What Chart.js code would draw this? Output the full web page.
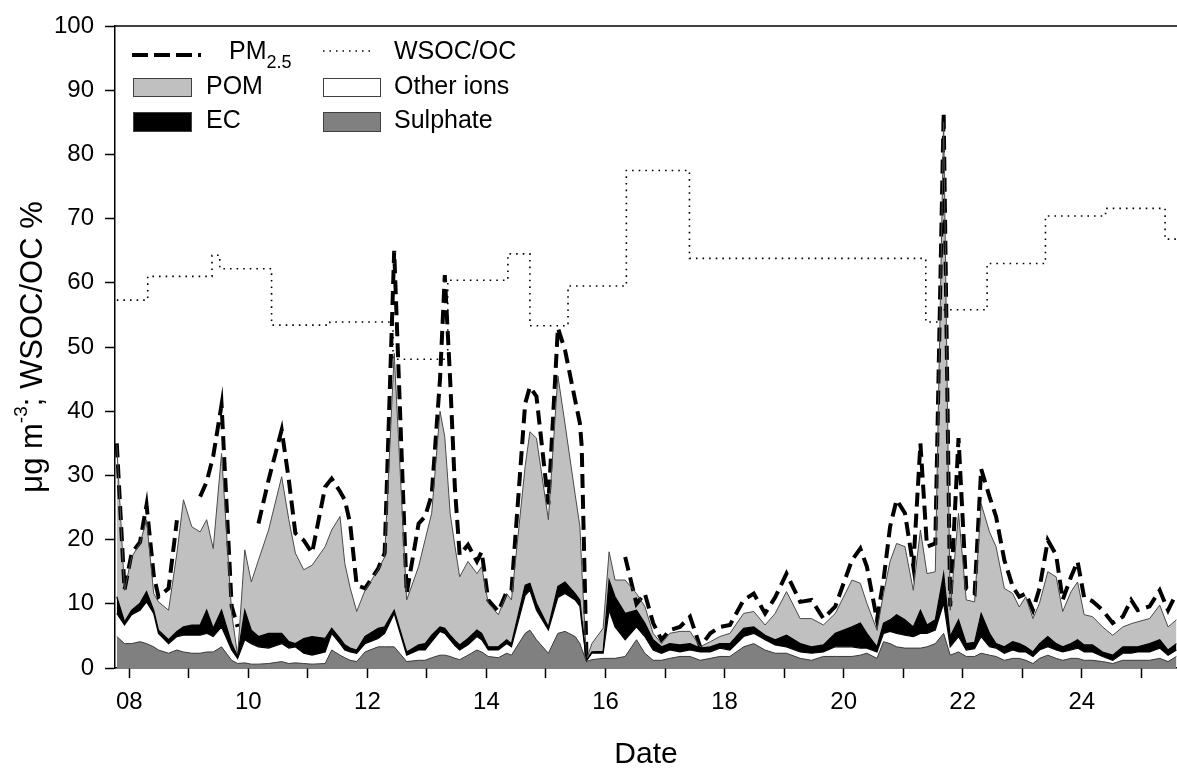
<!DOCTYPE html>
<html lang="en">
<head>
<meta charset="utf-8"/>
<title>PM2.5 composition and WSOC/OC</title>
<script src="https://cdn.jsdelivr.net/npm/chart.js@4.4.1/dist/chart.umd.min.js"></script>
<style>
  html, body { margin: 0; padding: 0; background: #fff; }
  #wrap { width: 1177px; height: 770px; }
</style>
</head>
<body>
<div id="wrap"><canvas id="chart" width="1177" height="770"></canvas></div>
<script>
// sampling times, as day of the month (decimal)
var days = [
  7.79, 7.92, 8.04, 8.18, 8.29, 8.41, 8.49, 8.66, 8.80, 8.91,
  9.05, 9.19, 9.30, 9.41, 9.55, 9.72, 9.82, 9.94, 10.05, 10.17,
  10.34, 10.56, 10.68, 10.79, 10.93, 11.07, 11.29, 11.40, 11.54, 11.62,
  11.71, 11.82, 11.96, 12.18, 12.29, 12.45, 12.66, 12.86, 12.97, 13.08,
  13.22, 13.30, 13.39, 13.47, 13.55, 13.69, 13.84, 13.92, 14.03, 14.20,
  14.34, 14.42, 14.65, 14.73, 14.84, 15.04, 15.20, 15.32, 15.49, 15.57,
  15.60, 15.68, 15.77, 15.96, 16.06, 16.16, 16.33, 16.52, 16.66, 16.80,
  16.94, 17.08, 17.25, 17.42, 17.59, 17.76, 17.92, 18.09, 18.32, 18.49,
  18.68, 18.85, 19.04, 19.27, 19.46, 19.66, 19.86, 20.14, 20.28, 20.39,
  20.56, 20.67, 20.78, 20.89, 21.03, 21.17, 21.29, 21.40, 21.54, 21.68,
  21.79, 21.93, 22.06, 22.20, 22.31, 22.45, 22.56, 22.70, 22.84, 22.95,
  23.06, 23.18, 23.29, 23.43, 23.57, 23.68, 23.82, 23.93, 24.04, 24.18,
  24.35, 24.52, 24.69, 24.83, 24.94, 25.14, 25.31, 25.45, 25.59
];

// stacked components, ug m-3 (bottom to top)
var sulphate = [
  4.9, 3.8, 3.8, 4.1, 3.8, 3.3, 2.8, 2.3, 2.8, 2.5,
  2.3, 2.3, 2.5, 2.5, 3.3, 1.2, 0.7, 0.8, 0.6, 0.6,
  0.7, 1.0, 0.7, 0.8, 0.7, 0.6, 0.7, 2.8, 2.0, 1.6,
  1.2, 1.0, 2.5, 3.3, 3.3, 3.3, 1.0, 1.2, 1.2, 1.6,
  2.0, 2.0, 1.8, 1.5, 1.3, 2.0, 2.8, 2.5, 1.8, 1.6,
  2.3, 2.0, 5.4, 5.9, 4.4, 2.3, 5.4, 5.7, 4.9, 3.8,
  3.0, 1.0, 1.3, 1.5, 1.5, 1.5, 1.8, 4.4, 2.3, 1.2,
  1.2, 1.5, 1.8, 1.8, 1.2, 1.5, 1.8, 1.8, 3.3, 3.8,
  2.8, 2.3, 2.3, 1.5, 1.2, 1.8, 1.8, 1.8, 2.0, 2.3,
  1.5, 4.1, 3.8, 3.3, 3.1, 3.1, 3.1, 3.3, 3.8, 5.4,
  2.0, 2.5, 1.8, 1.8, 2.3, 2.0, 1.8, 1.2, 1.5, 1.5,
  1.2, 0.7, 1.5, 2.0, 1.5, 1.2, 1.5, 1.5, 1.2, 1.2,
  1.0, 0.7, 1.2, 1.2, 1.2, 1.2, 1.5, 1.0, 1.8
];
var otherIons = [
  3.6, 2.9, 4.5, 4.9, 6.5, 5.2, 2.6, 1.5, 2.1, 2.6,
  2.8, 2.8, 2.9, 2.4, 3.1, 1.6, 0.8, 3.6, 3.2, 2.7,
  2.4, 2.8, 2.4, 2.5, 1.6, 1.4, 1.8, 2.6, 1.8, 1.2,
  1.3, 1.3, 1.3, 1.3, 2.1, 5.2, 1.0, 1.6, 1.6, 2.5,
  3.7, 3.4, 2.6, 2.0, 1.5, 1.6, 2.1, 1.9, 1.0, 1.2,
  1.5, 1.3, 5.9, 6.2, 4.6, 3.6, 5.6, 5.9, 5.7, 5.8,
  4.0, 0.1, 1.0, 0.8, 7.5, 4.9, 2.6, 2.0, 2.6, 1.6,
  1.1, 1.3, 0.7, 1.0, 1.3, 1.0, 1.3, 1.0, 1.6, 1.6,
  1.6, 1.3, 1.0, 1.0, 1.1, 0.7, 1.5, 1.5, 1.1, 0.8,
  1.0, 1.3, 1.9, 2.1, 2.0, 1.8, 2.3, 2.1, 2.1, 4.7,
  1.3, 2.4, 1.0, 1.2, 2.6, 1.3, 1.3, 1.1, 1.3, 1.0,
  1.3, 1.1, 1.3, 1.3, 1.3, 1.3, 1.3, 1.6, 1.3, 1.3,
  0.8, 0.5, 1.1, 1.1, 1.3, 1.3, 1.6, 1.0, 1.0
];
var ec = [
  2.6, 0.5, 0.7, 1.1, 1.6, 0.5, 0.5, 0.6, 0.8, 1.3,
  1.6, 1.6, 3.6, 1.3, 2.6, 1.0, 0.3, 4.6, 2.1, 1.6,
  2.3, 1.6, 1.0, 0.5, 2.3, 2.9, 2.1, 0.8, 0.8, 0.8,
  0.6, 0.5, 1.1, 1.6, 1.0, 0.5, 0.5, 0.8, 1.0, 1.0,
  0.7, 0.8, 0.7, 0.8, 0.8, 1.0, 1.0, 1.0, 0.5, 0.5,
  0.6, 0.5, 1.6, 1.1, 1.1, 0.5, 1.7, 1.8, 1.0, 1.0,
  0.8, 0.1, 0.2, 0.3, 4.7, 4.7, 4.1, 2.6, 2.1, 1.6,
  1.0, 1.0, 1.1, 1.0, 0.6, 0.8, 0.7, 1.0, 1.3, 1.0,
  0.7, 0.8, 1.8, 1.3, 1.0, 1.1, 2.1, 3.1, 3.9, 2.3,
  0.8, 1.6, 1.8, 2.9, 2.4, 1.5, 3.6, 1.3, 1.6, 4.6,
  1.6, 2.6, 1.0, 1.0, 3.6, 2.1, 0.7, 1.0, 1.3, 1.3,
  0.8, 0.7, 1.0, 1.6, 1.0, 0.8, 1.0, 1.3, 1.1, 1.1,
  0.7, 0.8, 1.0, 1.0, 0.8, 1.3, 1.3, 0.8, 1.0
];
var pom = [
  23.6, 4.9, 8.3, 9.3, 11.2, 2.6, 4.4, 4.6, 12.2, 19.8,
  15.3, 14.5, 14.1, 12.4, 24.4, 4.7, 0.1, 9.4, 7.5, 11.9,
  16.1, 24.4, 19.0, 14.1, 10.7, 11.1, 14.3, 15.3, 19.0, 12.7,
  9.4, 6.0, 7.2, 9.1, 10.9, 40.0, 8.1, 12.2, 16.2, 19.0,
  33.6, 29.8, 19.0, 14.7, 10.6, 12.0, 8.8, 10.4, 6.8, 5.0,
  7.2, 6.8, 18.5, 23.6, 25.7, 16.7, 32.8, 24.6, 15.4, 11.4,
  7.9, 0.1, 1.3, 3.6, 4.4, 2.6, 5.2, 2.6, 2.6, 1.0,
  0.5, 1.6, 2.1, 1.9, 0.2, 0.8, 1.1, 1.6, 2.3, 2.4,
  1.6, 4.1, 6.8, 3.9, 4.4, 3.1, 3.1, 7.3, 6.2, 4.7,
  2.6, 4.6, 9.1, 11.1, 11.4, 5.7, 12.5, 8.0, 7.5, 70.3,
  4.1, 16.6, 6.8, 6.3, 17.1, 15.8, 15.1, 9.1, 7.5, 5.7,
  7.8, 5.2, 6.3, 10.1, 10.4, 5.5, 8.1, 9.0, 4.7, 4.4,
  3.9, 3.1, 3.1, 3.6, 3.9, 3.9, 5.4, 3.6, 3.7
];
// measured PM2.5 mass, ug m-3 (null = no data)
var pm25 = [
  35.0, 12.2, 17.9, 19.6, 25.4, 14.5, 11.1, 12.4, 23.0, null,
  null, 26.7, 29.0, 33.0, 41.0, 9.6, 6.4, null, null, 22.5,
  29.3, 37.1, 29.3, 21.0, 19.9, 17.9, 28.2, 29.5, 27.5, 26.2,
  22.5, 12.9, 12.4, 15.5, 17.9, 65.0, 11.6, 22.5, 23.6, 27.0,
  45.0, 61.2, 44.9, 28.0, 17.6, 19.2, 16.6, 18.1, 10.6, 8.8,
  11.9, 12.1, 41.2, 43.8, 42.3, 25.5, 53.0, 49.5, 41.7, 38.1,
  34.5, 1.8, null, null, null, null, 17.3, 10.0, 11.6, 7.0,
  4.4, 5.9, 6.4, 8.0, 3.3, 5.4, 6.4, 6.7, 10.6, 11.6,
  8.5, 11.0, 14.7, 10.3, 10.6, 7.7, 9.6, 16.8, 18.6, 15.8,
  7.5, 13.7, 22.0, 26.2, 24.1, 15.8, 35.0, 18.9, 19.4, 86.5,
  9.6, 35.8, 12.4, 11.6, 31.0, 26.7, 23.6, 16.8, 12.7, 11.1,
  11.6, 9.0, 12.4, 19.9, 17.6, 10.6, 14.2, 16.6, 11.0, 10.4,
  9.0, 7.0, 8.0, 10.6, 9.0, 9.6, 12.1, 9.0, 11.6
];

// WSOC/OC (%), one value per period, starting at wsocDays[i]
var wsocDays = [7.79, 8.31, 9.39, 9.52, 10.39, 11.37, 12.43, 13.35, 14.36, 14.73,
                15.37, 16.35, 17.41, 21.38, 21.60, 22.41, 23.39, 24.40, 25.40, 25.60];
var wsocOc = [57.3, 61.0, 64.3, 62.2, 53.4, 53.9, 48.1, 60.4, 64.5, 53.3,
              59.5, 77.5, 63.8, 53.9, 55.8, 63.0, 70.4, 71.6, 66.8, 66.8];

var labelDays = [8, 10, 12, 14, 16, 18, 20, 22, 24];

var FONT = '"Liberation Sans", Arial, Helvetica, sans-serif';

function pts(xs, ys) {
  return xs.map(function (x, i) { return {x: x, y: ys[i]}; });
}

// top frame line, rotated y title with superscript, and the legend block
var extras = {
  id: 'extras',
  afterDraw: function (chart) {
    var c = chart.ctx, a = chart.chartArea;
    c.save();
    c.strokeStyle = '#000';
    c.lineWidth = 1.5;
    c.beginPath();
    c.moveTo(a.left, a.top);
    c.lineTo(a.right, a.top);
    c.stroke();

    // y axis title
    c.save();
    c.translate(33, (a.top + a.bottom) / 2);
    c.rotate(-Math.PI / 2);
    c.fillStyle = '#000';
    c.textBaseline = 'middle';
    var big = '31px ' + FONT, small = '19px ' + FONT;
    c.font = big;
    var w1 = c.measureText('\u03bcg m').width;
    var w3 = c.measureText('; WSOC/OC %').width;
    c.font = small;
    var w2 = c.measureText('-3').width;
    var x0 = -(w1 + w2 + w3) / 2;
    c.font = big;
    c.fillText('\u03bcg m', x0, 0);
    c.font = small;
    c.fillText('-3', x0 + w1, -11);
    c.font = big;
    c.fillText('; WSOC/OC %', x0 + w1 + w2, 0);
    c.restore();

    // legend
    c.fillStyle = '#000';
    c.textBaseline = 'middle';
    c.font = '25px ' + FONT;

    c.lineWidth = 4;
    c.setLineDash([16, 6]);
    c.beginPath(); c.moveTo(132, 55); c.lineTo(201, 55); c.stroke();
    c.fillText('PM', 229, 52);
    var pmW = c.measureText('PM').width;
    c.font = '18px ' + FONT;
    c.fillText('2.5', 229 + pmW, 63);
    c.font = '25px ' + FONT;

    c.lineWidth = 1.5;
    c.setLineDash([1.5, 5]);
    c.beginPath(); c.moveTo(323, 51); c.lineTo(374, 51); c.stroke();
    c.setLineDash([]);
    c.fillText('WSOC/OC', 394, 52);

    function box(x, y, w, h, col) {
      c.fillStyle = col;
      c.fillRect(x, y, w, h);
      c.strokeStyle = '#404040';
      c.lineWidth = 1;
      c.strokeRect(x + 0.5, y + 0.5, w, h);
      c.fillStyle = '#000';
    }
    box(133, 78, 58, 18, '#c0c0c0');
    c.fillText('POM', 206, 87);
    box(133, 112, 58, 19, '#000000');
    c.fillText('EC', 206, 121.5);
    box(323, 78, 57, 18, '#ffffff');
    c.fillText('Other ions', 394, 87);
    box(323, 112, 57, 19, '#808080');
    c.fillText('Sulphate', 394, 121.5);
    c.restore();
  }
};

new Chart(document.getElementById('chart'), {
  type: 'line',
  data: {
    datasets: [
      { label: 'Sulphate', data: pts(days, sulphate), stack: 'mass', fill: 'origin',
        backgroundColor: '#808080', borderColor: '#3a3a3a', borderWidth: 1 },
      { label: 'Other ions', data: pts(days, otherIons), stack: 'mass', fill: '-1',
        backgroundColor: '#ffffff', borderColor: '#000000', borderWidth: 1.2 },
      { label: 'EC', data: pts(days, ec), stack: 'mass', fill: '-1',
        backgroundColor: '#000000', borderColor: '#000000', borderWidth: 1.2 },
      { label: 'POM', data: pts(days, pom), stack: 'mass', fill: '-1',
        backgroundColor: '#c0c0c0', borderColor: '#4a4a4a', borderWidth: 1 },
      { label: 'PM2.5', data: pts(days, pm25), stack: 'pm', fill: false, spanGaps: false,
        borderColor: '#000000', borderWidth: 4, borderDash: [14, 7] },
      { label: 'WSOC/OC', data: pts(wsocDays, wsocOc), stack: 'wsoc', fill: false, stepped: true,
        borderColor: '#000000', borderWidth: 1.6, borderDash: [1.6, 5] }
    ]
  },
  options: {
    responsive: false,
    animation: false,
    layout: { padding: { top: 26, right: 0, bottom: 0, left: 0 } },
    elements: { point: { radius: 0 }, line: { tension: 0 } },
    plugins: {
      legend: { display: false },
      tooltip: { enabled: false },
      filler: { drawTime: 'beforeDatasetsDraw' }
    },
    scales: {
      x: {
        type: 'linear', min: 7.76, max: 25.6,
        border: { display: true, color: '#000', width: 1.5 },
        grid: { display: true, drawOnChartArea: false, drawTicks: true, tickLength: 10,
                tickColor: '#000', tickWidth: 1.5 },
        ticks: {
          stepSize: 1, autoSkip: false, maxRotation: 0, includeBounds: false, padding: 10,
          color: '#000', font: { family: FONT, size: 24 },
          callback: function (v) {
            if (labelDays.indexOf(v) < 0) return '';
            return v < 10 ? '0' + v : '' + v;
          }
        },
        title: { display: true, text: 'Date', color: '#000',
                 font: { family: FONT, size: 30, lineHeight: 1 }, padding: { top: 0, bottom: 0 } },
        afterFit: function (s) { s.height = 102; }
      },
      y: {
        stacked: true, min: 0, max: 100,
        border: { display: true, color: '#000', width: 1.5 },
        grid: { display: true, drawOnChartArea: false, drawTicks: true, tickLength: 10,
                tickColor: '#000', tickWidth: 1.5 },
        ticks: { stepSize: 10, padding: 11, color: '#000', font: { family: FONT, size: 24 } },
        afterFit: function (s) { s.width = 115; }
      }
    }
  },
  plugins: [extras]
});
</script>
</body>
</html>
